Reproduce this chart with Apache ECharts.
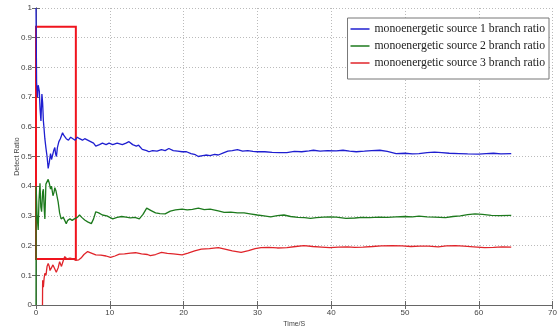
<!DOCTYPE html>
<html>
<head>
    <meta charset="utf-8">
    <script src="https://cdn.jsdelivr.net/npm/echarts@6/dist/echarts.min.js"></script>
    <style>
        *{
            margin:0;
            padding:0;
        }
        body{ background:#fff; }
    </style>
</head>
<body>
    <div id="main" style="width:560px;height:333px;"></div>
    <script type="text/javascript">

    var seriesNames = ['monoenergetic source 1 branch ratio', 'monoenergetic source 2 branch ratio', 'monoenergetic source 3 branch ratio'];
    var xTicks = [0, 10, 20, 30, 40, 50, 60, 70];
    var yTicks = [0, 0.1, 0.2, 0.3, 0.4, 0.5, 0.6, 0.7, 0.8, 0.9, 1];

    // [time, ratio]
    var source1 = [[0,1],[0.08,0.75],[0.2,0.7],[0.3,0.74],[0.45,0.72],[0.55,0.66],[0.67,0.62],[0.8,0.71],[0.9,0.68],[1.0,0.62],[1.07,0.6],[1.2,0.56],[1.34,0.53],[1.5,0.5],[1.65,0.46],[1.8,0.48],[1.97,0.51],[2.1,0.49],[2.2,0.5],[2.4,0.52],[2.55,0.53],[2.65,0.51],[2.77,0.5],[2.9,0.53],[3.1,0.55],[3.3,0.56],[3.6,0.58],[3.8,0.57],[4.1,0.56],[4.4,0.555],[4.7,0.565],[5.0,0.56],[5.3,0.555],[5.6,0.565],[5.9,0.56],[6.3,0.555],[6.6,0.56],[7.0,0.555],[7.4,0.55],[7.8,0.545],[8.1,0.535],[8.6,0.54],[9.0,0.545],[9.5,0.54],[9.9,0.545],[10.4,0.54],[11.0,0.545],[11.7,0.54],[12.2,0.545],[12.6,0.55],[13.1,0.54],[13.6,0.535],[13.9,0.538],[14.4,0.524],[15.0,0.52],[15.3,0.516],[15.8,0.52],[16.4,0.518],[17.0,0.523],[17.5,0.52],[18.0,0.527],[18.6,0.52],[19.2,0.518],[19.8,0.516],[20.4,0.516],[21.0,0.51],[21.6,0.506],[22.0,0.5],[22.4,0.502],[23.0,0.505],[23.6,0.503],[24.2,0.507],[24.7,0.505],[25.4,0.512],[26.0,0.518],[26.6,0.52],[27.3,0.523],[28.0,0.518],[28.7,0.52],[29.4,0.517],[30.0,0.516],[31.0,0.516],[32.0,0.514],[33.0,0.513],[34.0,0.513],[35.0,0.517],[36.0,0.516],[37.0,0.519],[37.6,0.521],[38.5,0.518],[39.5,0.52],[40.7,0.519],[41.6,0.521],[42.5,0.518],[43.4,0.516],[44.5,0.518],[45.5,0.52],[46.6,0.521],[47.6,0.517],[48.8,0.51],[50.0,0.511],[51.0,0.509],[51.9,0.51],[53.0,0.513],[54.0,0.515],[55.0,0.513],[56.0,0.511],[57.3,0.51],[58.5,0.509],[60.0,0.508],[61.0,0.51],[62.0,0.511],[63.0,0.509],[64.4,0.51]];
    var source2 = [[0,0],[0.02,0.4],[0.15,0.3],[0.3,0.253],[0.4,0.35],[0.54,0.41],[0.65,0.33],[0.76,0.314],[0.9,0.38],[1.0,0.39],[1.1,0.33],[1.2,0.29],[1.34,0.407],[1.5,0.41],[1.65,0.423],[1.8,0.41],[1.97,0.39],[2.1,0.4],[2.3,0.368],[2.45,0.38],[2.55,0.395],[2.7,0.385],[2.8,0.38],[3.0,0.347],[3.2,0.31],[3.4,0.29],[3.7,0.295],[4.1,0.274],[4.3,0.285],[4.6,0.29],[4.9,0.285],[5.2,0.29],[5.6,0.295],[5.9,0.303],[6.2,0.295],[6.6,0.286],[7.0,0.28],[7.5,0.274],[7.8,0.29],[8.1,0.314],[8.5,0.31],[9.0,0.303],[9.6,0.3],[10.4,0.29],[11.0,0.295],[11.6,0.298],[12.2,0.296],[12.8,0.293],[13.4,0.295],[14.0,0.29],[14.5,0.305],[15.0,0.326],[15.6,0.318],[16.2,0.31],[16.8,0.308],[17.5,0.307],[18.2,0.316],[18.9,0.32],[19.8,0.323],[20.5,0.32],[21.2,0.322],[22.0,0.326],[22.8,0.321],[23.6,0.323],[24.7,0.317],[25.5,0.312],[26.4,0.313],[27.3,0.31],[28.2,0.31],[29.0,0.307],[30.0,0.303],[30.9,0.3],[31.8,0.297],[32.7,0.301],[33.6,0.303],[34.5,0.298],[35.5,0.295],[36.4,0.294],[37.2,0.292],[38.0,0.294],[39.0,0.296],[39.8,0.297],[40.7,0.296],[42.0,0.292],[43.2,0.293],[44.2,0.295],[45.2,0.294],[46.5,0.296],[47.6,0.295],[48.8,0.297],[50.0,0.298],[51.0,0.297],[51.9,0.299],[53.0,0.297],[54.0,0.296],[55.5,0.294],[56.5,0.298],[57.5,0.3],[58.5,0.304],[59.5,0.307],[60.5,0.305],[61.7,0.302],[62.8,0.301],[64.4,0.302]];
    var source3 = [[0.88,0],[0.9,0.083],[1.0,0.06],[1.1,0.09],[1.2,0.107],[1.35,0.1],[1.5,0.13],[1.65,0.14],[1.8,0.13],[1.9,0.116],[2.1,0.12],[2.3,0.135],[2.55,0.13],[2.75,0.11],[3.0,0.125],[3.2,0.146],[3.45,0.13],[3.7,0.15],[3.9,0.163],[4.2,0.155],[4.6,0.158],[5.0,0.155],[5.4,0.15],[5.8,0.152],[6.1,0.158],[6.5,0.17],[7.0,0.18],[7.5,0.175],[8.1,0.169],[8.8,0.168],[9.5,0.165],[10.1,0.16],[10.7,0.165],[11.3,0.171],[12.0,0.172],[12.8,0.175],[13.5,0.176],[14.3,0.172],[15.1,0.17],[15.5,0.166],[16.2,0.17],[17.0,0.177],[17.8,0.174],[18.6,0.172],[19.8,0.169],[20.6,0.175],[21.5,0.182],[22.4,0.188],[23.5,0.19],[24.7,0.193],[25.6,0.188],[26.6,0.182],[27.8,0.177],[28.8,0.183],[29.7,0.19],[30.5,0.193],[31.5,0.194],[32.7,0.192],[34.0,0.193],[35.2,0.197],[36.3,0.2],[37.5,0.197],[38.7,0.195],[39.8,0.193],[41.0,0.195],[42.2,0.196],[43.2,0.194],[44.3,0.195],[45.6,0.197],[46.8,0.199],[48.3,0.2],[49.6,0.199],[50.8,0.197],[52.0,0.198],[53.2,0.198],[54.5,0.196],[55.6,0.199],[56.8,0.2],[58.0,0.198],[59.3,0.196],[60.8,0.193],[62.0,0.194],[63.2,0.196],[64.4,0.195]];

    // red highlight box: [t0, v0] to [t1, v1]
    var boxArea = [[0, 0.155], [5.4, 0.937]];

    var lineColors = ['#1f1fd0', '#1d7a1d', '#e0242a'];
    var tickFont = 'Liberation Sans';

    var myChart = echarts.init(document.getElementById('main'));

    function axisBase(show) {
        return {
            axisLine: { show: true, lineStyle: { color: '#666', width: 1 } },
            axisTick: { show: true, inside: true, length: 4, lineStyle: { color: '#666' } },
            axisLabel: { show: show, color: '#444', fontSize: 8, fontFamily: tickFont, margin: 4 },
            splitLine: { show: false }
        };
    }

    var xMain = axisBase(true);
    xMain.type = 'value'; xMain.min = xTicks[0]; xMain.max = xTicks[xTicks.length - 1]; xMain.interval = 10;
    xMain.name = 'Time/S'; xMain.nameLocation = 'middle'; xMain.nameGap = 16; xMain.nameMoveOverlap = false;
    xMain.nameTextStyle = { fontSize: 7, color: '#444', fontFamily: tickFont };
    xMain.splitLine = { show: true, lineStyle: { color: '#bbb', type: [1, 2], width: 1 } };

    var xTop = axisBase(false);
    xTop.type = 'value'; xTop.position = 'top'; xTop.min = xMain.min; xTop.max = xMain.max; xTop.interval = 10;

    var yMain = axisBase(true);
    yMain.type = 'value'; yMain.min = yTicks[0]; yMain.max = yTicks[yTicks.length - 1]; yMain.interval = 0.1;
    yMain.name = 'Detect Ratio'; yMain.nameLocation = 'middle'; yMain.nameGap = 15; yMain.nameMoveOverlap = false;
    yMain.nameTextStyle = { fontSize: 7, color: '#444', fontFamily: tickFont };
    yMain.axisLabel.formatter = function (v) { return String(Math.round(v * 10) / 10); };
    yMain.splitLine = { show: true, lineStyle: { color: '#bbb', type: [1, 2], width: 1 } };

    var yRight = axisBase(false);
    yRight.type = 'value'; yRight.position = 'right'; yRight.min = yMain.min; yRight.max = yMain.max; yRight.interval = 0.1;

    var dataSets = [source1, source2, source3];
    var series = dataSets.map(function (d, i) {
        return {
            name: seriesNames[i],
            type: 'line',
            data: d,
            showSymbol: false,
            symbol: 'none',
            animation: false,
            z: 3 + (2 - i),
            lineStyle: { color: lineColors[i], width: 1.3 },
            itemStyle: { color: lineColors[i] }
        };
    });
    series[0].markArea = {
        silent: true,
        itemStyle: { color: 'rgba(0,0,0,0)', borderColor: '#f0141e', borderWidth: 2 },
        data: [[{ coord: boxArea[0] }, { coord: boxArea[1] }]]
    };

    myChart.setOption({
        backgroundColor: '#fff',
        animation: false,
        grid: { left: 36, right: 3, top: 8, bottom: 21, containLabel: false },
        legend: {
            orient: 'vertical',
            right: 11,
            top: 18,
            data: seriesNames.map(function (n, i) {
                return { name: n, icon: 'rect', itemStyle: { color: lineColors[i] } };
            }),
            itemWidth: 19,
            itemHeight: 1.5,
            itemGap: 3,
            padding: [4, 4, 9, 3],
            backgroundColor: '#fff',
            borderColor: '#777',
            borderWidth: 1,
            borderRadius: 0,
            textStyle: { fontFamily: 'Liberation Serif', fontSize: 11.7, color: '#222', lineHeight: 14 }
        },
        xAxis: [xMain, xTop],
        yAxis: [yMain, yRight],
        series: series
    });
</script>
</body>
</html>
